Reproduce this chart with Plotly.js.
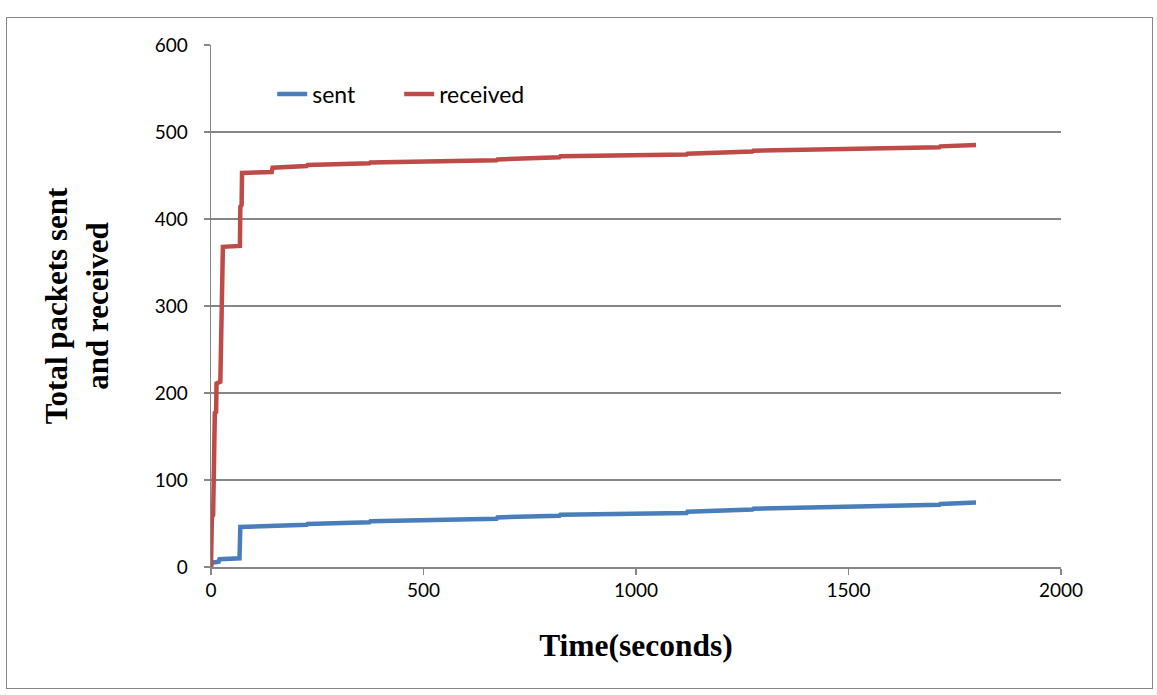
<!DOCTYPE html>
<html>
<head>
<meta charset="utf-8">
<script src="https://cdn.plot.ly/plotly-3.0.1.min.js"></script>
<style>
html,body{margin:0;padding:0;background:#fff;}
#wrap{position:relative;width:1157px;height:695px;}
#chart{width:1157px;height:695px;}
#frame{position:absolute;left:6px;top:17px;width:1145px;height:670px;border:1.5px solid #868686;pointer-events:none;}
</style>
</head>
<body>
<div id="wrap"><div id="chart"></div><div id="frame"></div></div>
<script>
// Time (seconds) and cumulative packet counts
const sentTime = [0, 2, 18, 20, 67, 69, 225, 227, 373, 375, 672, 674, 820, 822, 1119, 1121, 1274, 1276, 1714, 1716, 1800];
const sentCount = [0, 5, 6, 9, 10, 46, 48.5, 49.5, 51.5, 52.5, 55.5, 57, 59, 60, 62, 63.5, 66, 67, 71.5, 72.5, 74];

const recvTime = [0, 2, 5, 6, 8, 9, 12, 13, 22, 23, 25, 27, 28, 68, 69, 72, 73, 143, 145, 225, 227, 373, 375, 672, 674, 820, 822, 1119, 1121, 1274, 1276, 1714, 1716, 1800];
const recvCount = [0, 57, 60, 137, 138, 177, 178, 211, 213, 249, 295, 330, 368, 369, 414, 416, 453, 454, 459, 461, 462, 464, 465, 467.5, 468.5, 471, 472, 474, 475, 477.5, 478.5, 482.5, 483.5, 485];

const xTicks = [0, 500, 1000, 1500, 2000];
const yTicks = [0, 100, 200, 300, 400, 500, 600];

const traces = [
  {x: sentTime, y: sentCount, name: 'sent', mode: 'lines', type: 'scatter',
   line: {color: '#4A7EBB', width: 4.5}},
  {x: recvTime, y: recvCount, name: 'received', mode: 'lines', type: 'scatter',
   line: {color: '#BE4B48', width: 4.5}}
];

const layout = {
  width: 1157, height: 695,
  margin: {l: 211, r: 96, t: 45, b: 128},
  paper_bgcolor: '#fff', plot_bgcolor: '#fff',
  font: {family: 'Lato, "Open Sans", sans-serif', size: 19, color: '#000'},
  showlegend: true,
  legend: {orientation: 'h', x: 0.072, y: 0.906, xanchor: 'left', yanchor: 'middle',
    font: {family: 'Lato, sans-serif', size: 23, color: '#000'}, bgcolor: 'rgba(0,0,0,0)',
    entrywidth: 82, entrywidthmode: 'pixels', tracegroupgap: 0},
  xaxis: {
    range: [0, 2000], tickvals: xTicks, ticktext: xTicks.map(String),
    showgrid: false, zeroline: false, showline: true, linecolor: '#868686', linewidth: 1.5,
    ticks: 'outside', ticklen: 6, tickcolor: '#868686', tickwidth: 1.5,
    tickfont: {family: 'Lato, sans-serif', size: 19},
    title: {text: '<b>Time(seconds)</b>', standoff: 33,
      font: {family: '"Liberation Serif", "Times New Roman", serif', size: 31.5}}
  },
  yaxis: {
    range: [0, 600], tickvals: yTicks, ticktext: yTicks.map(String),
    showgrid: true, gridcolor: '#868686', gridwidth: 1.5, zeroline: false,
    showline: true, linecolor: '#868686', linewidth: 1.5,
    ticks: 'outside', ticklen: 6, tickcolor: '#868686', tickwidth: 1.5,
    ticklabelstandoff: 12,
    tickfont: {family: 'Lato, sans-serif', size: 19},
    title: {text: '<b>Total packets sent<br>and received</b>', standoff: 37,
      font: {family: '"Liberation Serif", "Times New Roman", serif', size: 31}}
  }
};

Plotly.newPlot('chart', traces, layout, {staticPlot: true, displayModeBar: false});
</script>
</body>
</html>
